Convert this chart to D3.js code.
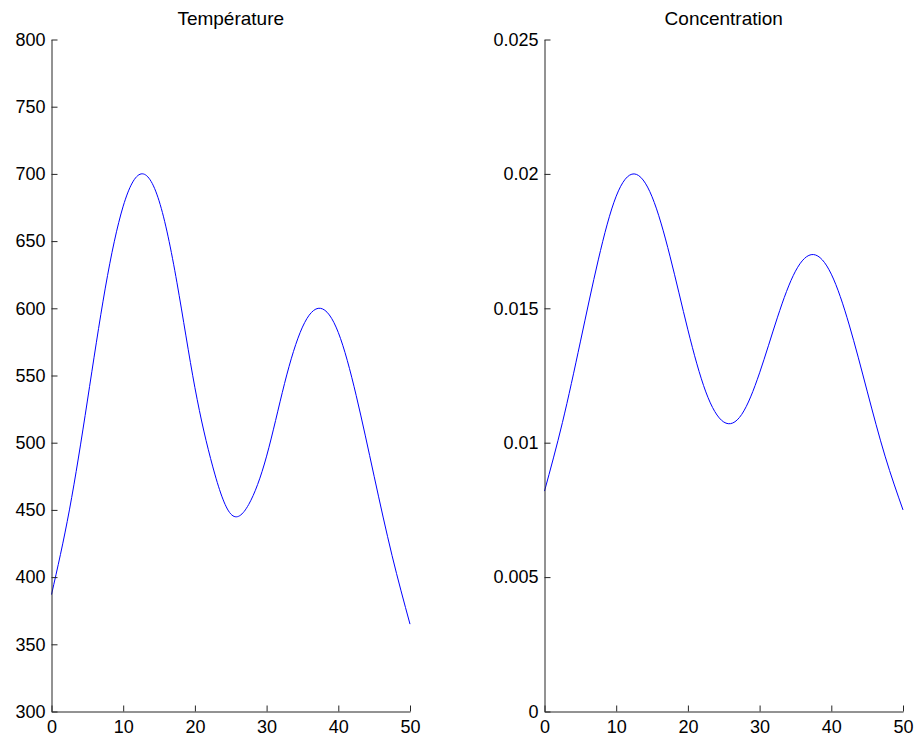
<!DOCTYPE html>
<html>
<head>
<meta charset="utf-8">
<script src="https://cdn.jsdelivr.net/npm/d3@7"></script>
<style>
  html, body { margin: 0; padding: 0; background: #fff; }
  svg { display: block; font-family: "Liberation Sans", Arial, sans-serif; }
</style>
</head>
<body>
<svg id="chart" width="919" height="740"></svg>
<script>
// ---- data ----
const xValues = [0, 2.5, 5, 7.5, 10, 12.5, 15, 17.5, 20, 22.5, 25, 27.5, 30, 32.5, 35, 37.5, 40, 42.5, 45, 47.5, 50];
const temperature = [387, 450, 531, 615, 676, 700, 680, 619, 541, 482, 447, 454, 490, 544, 586, 600, 582, 535, 475, 416, 365];
const concentration = [0.0082, 0.01075, 0.01375, 0.0168, 0.01917, 0.0200, 0.01915, 0.01694, 0.0142, 0.01189, 0.01077, 0.01105, 0.0126, 0.01467, 0.01638, 0.0170, 0.01627, 0.01438, 0.01192, 0.0095, 0.0075];
const titles = ["Température", "Concentration"];
const xTicks = [0, 10, 20, 30, 40, 50];
const tempTicks = [300, 350, 400, 450, 500, 550, 600, 650, 700, 750, 800];
const concTicks = [0, 0.005, 0.01, 0.015, 0.02, 0.025];
const concTickLabels = ["0", "0.005", "0.01", "0.015", "0.02", "0.025"];

const svg = d3.select("#chart");

const panels = [
  { title: titles[0], values: temperature, yDomain: [300, 800], yTicks: tempTicks,
    yFmt: d => String(d), left: 51.5, right: 410 },
  { title: titles[1], values: concentration, yDomain: [0, 0.025], yTicks: concTicks,
    yFmt: d => concTickLabels[concTicks.indexOf(d)], left: 544.5, right: 903 }
];

const plotTop = 39.5, plotBottom = 711.5;

panels.forEach(p => {
  const x = d3.scaleLinear().domain([0, 50]).range([p.left, p.right]);
  const y = d3.scaleLinear().domain(p.yDomain).range([plotBottom, plotTop]);
  const g = svg.append("g");

  const line = d3.line()
    .x((d, i) => x(xValues[i]))
    .y(d => y(d))
    .curve(d3.curveNatural);

  g.append("path")
    .datum(p.values)
    .attr("fill", "none")
    .attr("stroke", "#0000ff")
    .attr("stroke-width", 1)
    .attr("d", line);

  const yAxis = g.append("g")
    .attr("transform", `translate(${p.left},0)`)
    .call(d3.axisLeft(y).tickValues(p.yTicks).tickFormat(p.yFmt)
      .tickSizeInner(-6).tickSizeOuter(0).tickPadding(6));

  const xAxis = g.append("g")
    .attr("transform", `translate(0,${plotBottom})`)
    .call(d3.axisBottom(x).tickValues(xTicks).tickFormat(d => String(d))
      .tickSizeInner(-6).tickSizeOuter(0).tickPadding(9));

  [xAxis, yAxis].forEach(a => {
    a.selectAll("path, line").attr("stroke", "#262626").attr("stroke-width", 1);
    a.selectAll("text").attr("fill", "#000").style("font-size", "18px")
      .style("font-family", "'Liberation Sans', Arial, sans-serif");
  });

  g.append("text")
    .attr("x", (p.left + p.right) / 2)
    .attr("y", 25)
    .attr("text-anchor", "middle")
    .attr("fill", "#000")
    .style("font-size", "19px")
    .text(p.title);
});
</script>
</body>
</html>
